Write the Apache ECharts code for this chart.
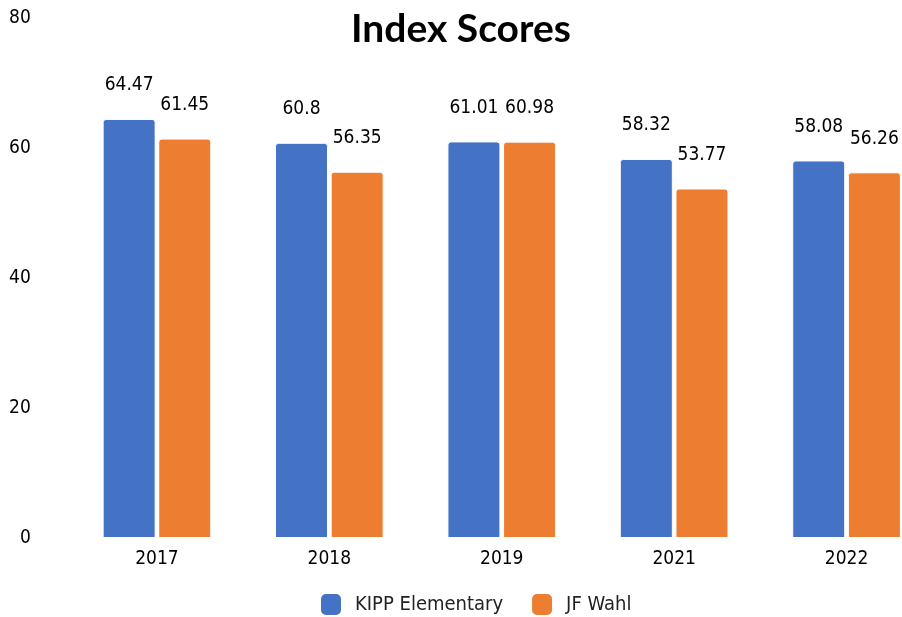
<!DOCTYPE html>
<html>
<head>
<meta charset="utf-8">
<script src="https://cdn.jsdelivr.net/npm/echarts@6/dist/echarts.min.js"></script>
<style>
  html, body { margin: 0; padding: 0; background: #fff; overflow: hidden; }
  /* the reference crops the last bar at the right edge, so the chart is wider than the window */
  #chart { width: 934px; height: 617px; }
</style>
</head>
<body>
<div id="chart"></div>
<script>
var years = ['2017', '2018', '2019', '2021', '2022'];
var kipp = [64.47, 60.8, 61.01, 58.32, 58.08];
var wahl = [61.45, 56.35, 60.98, 53.77, 56.26];
var yTicks = [0, 20, 40, 60, 80];

var font = 'DejaVu Sans Condensed';
var chart = echarts.init(document.getElementById('chart'));

// labels sit well above the bar tops, as in the reference
var valueLabel = {
	show: true,
	position: 'top',
	distance: 24,
	fontFamily: font,
	fontSize: 19,
	color: '#000'
};

chart.setOption({
	animation: false,
	title: {
		text: 'Index Scores',
		left: 456,
		textAlign: 'center',
		top: 5,
		textStyle: {
			fontFamily: 'Lato',
			fontWeight: 'bold',
			fontSize: 39,
			color: '#000'
		}
	},
	legend: {
		data: ['KIPP Elementary', 'JF Wahl'],
		left: 321,
		top: 594,
		padding: 0,
		itemWidth: 20,
		itemHeight: 21,
		itemGap: 29,
		itemStyle: { borderRadius: 2, borderWidth: 0 },
		textStyle: {
			fontFamily: font,
			fontSize: 20,
			color: '#222',
			padding: [0, 0, 0, 9]
		}
	},
	grid: {
		left: 70.75,
		top: 18,
		width: 862,
		height: 520,
		containLabel: false
	},
	xAxis: {
		type: 'category',
		data: years,
		axisLine: { show: false },
		axisTick: { show: false },
		axisLabel: {
			fontFamily: font,
			fontSize: 19,
			color: '#000',
			margin: 12
		}
	},
	yAxis: {
		type: 'value',
		min: yTicks[0],
		max: yTicks[yTicks.length - 1],
		interval: 20,
		axisLine: { show: false },
		axisTick: { show: false },
		splitLine: { show: false },
		axisLabel: {
			fontFamily: font,
			fontSize: 19,
			color: '#000',
			margin: 40
		}
	},
	series: [{
		name: 'KIPP Elementary',
		type: 'bar',
		data: kipp,
		barWidth: 53,
		barGap: '5%',
		itemStyle: {
			color: '#4472C4',
			borderColor: '#fff',
			borderWidth: 1,
			borderRadius: [3, 3, 0, 0]
		},
		label: valueLabel
	}, {
		name: 'JF Wahl',
		type: 'bar',
		data: wahl,
		barWidth: 53,
		itemStyle: {
			color: '#ED7D31',
			borderColor: '#fff',
			borderWidth: 1,
			borderRadius: [3, 3, 0, 0]
		},
		label: valueLabel
	}]
});
</script>
</body>
</html>
